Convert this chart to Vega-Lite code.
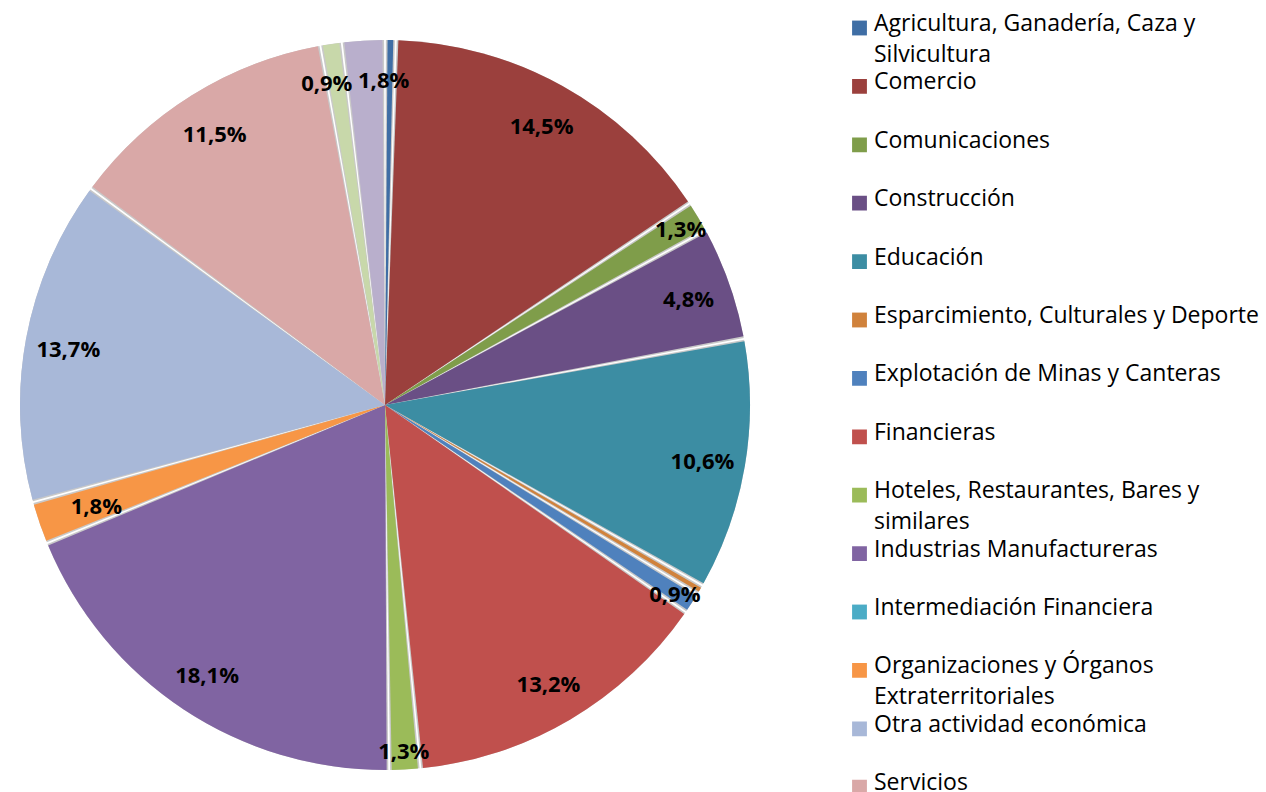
{
  "$schema": "https://vega.github.io/schema/vega-lite/v6.json",
  "width": 770,
  "height": 774,
  "autosize": {"type": "none"},
  "padding": {"left": 0, "top": 18, "right": 496, "bottom": 0},
  "background": "white",
  "config": {"view": {"stroke": null}, "font": "Open Sans"},
  "data": {
    "values": [
      {"orden": 1, "sector": "Agricultura, Ganadería, Caza y Silvicultura", "valor": 0.45, "etiqueta": ""},
      {"orden": 2, "sector": "Comercio", "valor": 14.5, "etiqueta": "14,5%"},
      {"orden": 3, "sector": "Comunicaciones", "valor": 1.3, "etiqueta": "1,3%"},
      {"orden": 4, "sector": "Construcción", "valor": 4.8, "etiqueta": "4,8%"},
      {"orden": 5, "sector": "Educación", "valor": 10.6, "etiqueta": "10,6%"},
      {"orden": 6, "sector": "Esparcimiento, Culturales y Deporte", "valor": 0.4, "etiqueta": ""},
      {"orden": 7, "sector": "Explotación de Minas y Canteras", "valor": 0.9, "etiqueta": "0,9%"},
      {"orden": 8, "sector": "Financieras", "valor": 13.2, "etiqueta": "13,2%"},
      {"orden": 9, "sector": "Hoteles, Restaurantes, Bares y similares", "valor": 1.3, "etiqueta": "1,3%"},
      {"orden": 10, "sector": "Industrias Manufactureras", "valor": 18.1, "etiqueta": "18,1%"},
      {"orden": 11, "sector": "Intermediación Financiera", "valor": 0, "etiqueta": ""},
      {"orden": 12, "sector": "Organizaciones y Órganos Extraterritoriales", "valor": 1.8, "etiqueta": "1,8%"},
      {"orden": 13, "sector": "Otra actividad económica", "valor": 13.7, "etiqueta": "13,7%"},
      {"orden": 14, "sector": "Servicios", "valor": 11.5, "etiqueta": "11,5%"},
      {"orden": 15, "sector": "Suministro de Electricidad, Gas y Agua", "valor": 0.9, "etiqueta": "0,9%"},
      {"orden": 16, "sector": "Transporte y Almacenamiento", "valor": 1.8, "etiqueta": "1,8%"}
    ]
  },
  "encoding": {
    "theta": {"field": "valor", "type": "quantitative", "stack": true},
    "order": {"field": "orden", "type": "quantitative"},
    "detail": {"field": "sector", "type": "nominal"}
  },
  "layer": [
    {
      "mark": {"type": "arc", "radius": 365, "padAngle": 0.005, "color": "#C9C9C9"}
    },
    {
      "mark": {"type": "arc", "radius": 365, "padAngle": 0.014},
      "encoding": {
        "color": {
          "field": "sector",
          "type": "nominal",
          "sort": null,
          "scale": {
            "domain": [
              "Agricultura, Ganadería, Caza y Silvicultura",
              "Comercio",
              "Comunicaciones",
              "Construcción",
              "Educación",
              "Esparcimiento, Culturales y Deporte",
              "Explotación de Minas y Canteras",
              "Financieras",
              "Hoteles, Restaurantes, Bares y similares",
              "Industrias Manufactureras",
              "Intermediación Financiera",
              "Organizaciones y Órganos Extraterritoriales",
              "Otra actividad económica",
              "Servicios",
              "Suministro de Electricidad, Gas y Agua",
              "Transporte y Almacenamiento"
            ],
            "range": ["#3F6EA5", "#9B403D", "#7F9D4A", "#6A4F85", "#3C8DA3", "#D0823C", "#4F81BD", "#C0504D", "#9BBB59", "#8064A2", "#4BACC6", "#F79646", "#A8B8D8", "#D9A8A7", "#C8D8AA", "#B9AFCC"]
          },
          "legend": {
            "title": null,
            "orient": "none",
            "legendX": 848,
            "legendY": -1,
            "values": [
              "Agricultura, Ganadería, Caza y Silvicultura",
              "Comercio",
              "Comunicaciones",
              "Construcción",
              "Educación",
              "Esparcimiento, Culturales y Deporte",
              "Explotación de Minas y Canteras",
              "Financieras",
              "Hoteles, Restaurantes, Bares y similares",
              "Industrias Manufactureras",
              "Intermediación Financiera",
              "Organizaciones y Órganos Extraterritoriales",
              "Otra actividad económica",
              "Servicios"
            ],
            "symbolType": "square",
            "symbolSize": 220,
            "symbolStrokeWidth": 0,
            "symbolOpacity": 1,
            "labelFont": "Open Sans",
            "labelFontSize": 23,
            "labelColor": "black",
            "labelLimit": 420,
            "labelOffset": 3,
            "labelBaseline": "top",
            "clipHeight": 22,
            "rowPadding": 4.4,
            "labelExpr": "datum.label == 'Agricultura, Ganadería, Caza y Silvicultura' ? ['Agricultura, Ganadería, Caza y', 'Silvicultura'] : datum.label == 'Hoteles, Restaurantes, Bares y similares' ? ['Hoteles, Restaurantes, Bares y', 'similares'] : datum.label == 'Organizaciones y Órganos Extraterritoriales' ? ['Organizaciones y Órganos', 'Extraterritoriales'] : [datum.label, ' ']",
            "encode": {
              "labels": {"update": {"dy": {"value": -15}, "lineHeight": {"value": 31}}}
            }
          }
        }
      }
    },
    {
      "mark": {"type": "text", "radius": 322, "dy": 3, "fontSize": 22, "fontWeight": "bold", "font": "Open Sans", "color": "black"},
      "encoding": {
        "text": {"condition": {"test": "indexof([2, 4, 5, 8, 10, 13, 14], datum.orden) >= 0", "field": "etiqueta"}, "value": ""}
      }
    },
    {
      "mark": {"type": "text", "radius": 345, "dy": 3, "fontSize": 22, "fontWeight": "bold", "font": "Open Sans", "color": "black"},
      "encoding": {
        "text": {"condition": {"test": "indexof([3, 7, 9], datum.orden) >= 0", "field": "etiqueta"}, "value": ""}
      }
    },
    {
      "mark": {"type": "text", "radius": 305, "dy": 3, "fontSize": 22, "fontWeight": "bold", "font": "Open Sans", "color": "black"},
      "encoding": {
        "text": {"condition": {"test": "datum.orden == 12", "field": "etiqueta"}, "value": ""}
      }
    },
    {
      "mark": {"type": "text", "radius": 326, "dx": -10, "dy": 1, "fontSize": 22, "fontWeight": "bold", "font": "Open Sans", "color": "black"},
      "encoding": {
        "text": {"condition": {"test": "datum.orden == 15", "field": "etiqueta"}, "value": ""}
      }
    },
    {
      "mark": {"type": "text", "radius": 326, "dx": 18, "dy": 1, "fontSize": 22, "fontWeight": "bold", "font": "Open Sans", "color": "black"},
      "encoding": {
        "text": {"condition": {"test": "datum.orden == 16", "field": "etiqueta"}, "value": ""}
      }
    }
  ]
}
